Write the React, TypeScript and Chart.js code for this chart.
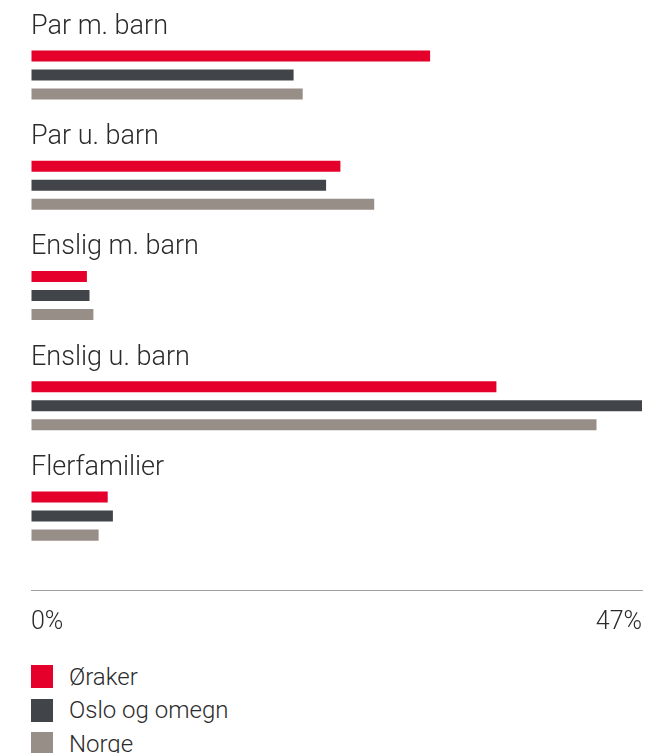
import React, { useEffect, useRef } from "react";
import { Chart, registerables } from "chart.js";

Chart.register(...registerables);

const categories = ["Par m. barn", "Par u. barn", "Enslig m. barn", "Enslig u. barn", "Flerfamilier"];
const seriesNames = ["Øraker", "Oslo og omegn", "Norge"];
const oraker = [30.7, 23.8, 4.3, 35.8, 5.9];
const oslo = [20.2, 22.7, 4.5, 47.0, 6.3];
const norge = [20.9, 26.4, 4.8, 43.5, 5.2];
const tickValues = [0, 47];
const colors = ["#e4002b", "#414549", "#978e88"];

const FONT = "Roboto";

const labelPlugin = {
  id: "catLabels",
  afterDatasetsDraw(chart: any) {
    const { ctx, scales } = chart;
    const ys = scales.y;
    const left = chart.chartArea.left;
    ctx.save();
    ctx.font = `300 27px ${FONT}`;
    ctx.fillStyle = "#2b2b2b";
    ctx.textAlign = "left";
    ctx.textBaseline = "middle";
    categories.forEach((c, i) => {
      const y = ys.getPixelForValue(i) - 48;
      ctx.fillText(c, left, y);
    });
    ctx.restore();
  },
};

export default function App() {
  const ref = useRef<HTMLCanvasElement>(null);
  useEffect(() => {
    document.body.style.margin = "0";
    const series = [oraker, oslo, norge];
    const chart = new Chart(ref.current!, {
      type: "bar",
      data: {
        datasets: series.map((s, k) => ({
          label: seriesNames[k],
          data: s.map((v, i) => ({ x: v, y: i })),
          backgroundColor: colors[k],
          borderWidth: 0,
          categoryPercentage: 0.517,
          barPercentage: 0.58,
        })),
      },
      options: {
        indexAxis: "y",
        animation: false,
        responsive: true,
        maintainAspectRatio: false,
        layout: { padding: { left: 31, right: 3, top: 0, bottom: 0 } },
        plugins: { legend: { display: false }, tooltip: { enabled: false } },
        scales: {
          y: {
            type: "linear",
            reverse: true,
            offset: false,
            min: -0.68,
            max: 4.67,
            display: false,
            grid: { offset: false },
            afterBuildTicks: (axis: any) => {
              axis.ticks = categories.map((_, i) => ({ value: i }));
            },
          },
          x: {
            type: "linear",
            min: 0,
            max: 47,
            grid: {
              display: true,
              drawOnChartArea: false,
              drawTicks: true,
              tickLength: 18,
              color: "rgba(0,0,0,0)",
            },
            border: { display: true, color: "#a0a0a0", width: 1 },
            afterBuildTicks: (axis: any) => {
              axis.ticks = tickValues.map((v) => ({ value: v }));
            },
            ticks: {
              align: "inner",
              padding: 0,
              color: "#2b2b2b",
              font: { family: FONT, size: 25, weight: "300" },
              callback: (v: any) => v + "%",
              maxRotation: 0,
            },
          },
        },
      },
      plugins: [labelPlugin],
    } as any);
    return () => chart.destroy();
  }, []);

  return (
    <div style={{ position: "absolute", left: 0, top: 0, width: 645, height: 753, overflow: "hidden", fontFamily: FONT }}>
      <div style={{ position: "relative", width: 645, height: 638 }}>
        <canvas ref={ref} />
      </div>
      <div style={{ position: "absolute", left: 31, top: 660 }}>
        {seriesNames.map((n, k) => (
          <div key={n} style={{ display: "flex", alignItems: "center", height: 33.5 }}>
            <span style={{ display: "inline-block", width: 22, height: 23, background: colors[k], marginRight: 16 }} />
            <span style={{ fontSize: 24, fontWeight: 300, color: "#2b2b2b" }}>{n}</span>
          </div>
        ))}
      </div>
    </div>
  );
}
